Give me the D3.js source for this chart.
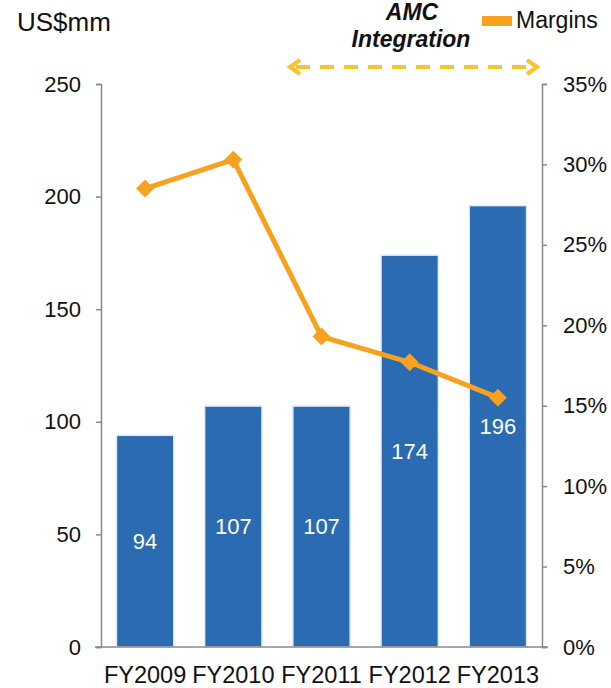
<!DOCTYPE html>
<html>
<head>
<meta charset="utf-8">
<script src="https://cdn.jsdelivr.net/npm/d3@7"></script>
<style>
  body { margin: 0; background: #fff; }
  svg text { font-family: "Liberation Sans", Arial, sans-serif; fill: #111; }
</style>
</head>
<body>
<div id="chart"></div>
<script>
// data
var years = ["FY2009", "FY2010", "FY2011", "FY2012", "FY2013"];
var revenue = [94, 107, 107, 174, 196];           // US$mm, bars
var margins = [0.285, 0.303, 0.193, 0.177, 0.155]; // line
var leftTicks = [0, 50, 100, 150, 200, 250];
var rightTicks = [0, 0.05, 0.10, 0.15, 0.20, 0.25, 0.30, 0.35];

var W = 611, H = 688;
var plot = {left: 101, right: 542, top: 84, bottom: 647};

var svg = d3.select("#chart").append("svg")
    .attr("width", W)
    .attr("height", H);

var x = d3.scaleBand()
    .domain(years)
    .range([plot.left, plot.right])
    .paddingInner(0.35)
    .paddingOuter(0.175);

var yL = d3.scaleLinear().domain([0, 250]).range([plot.bottom, plot.top]);
var yR = d3.scaleLinear().domain([0, 0.35]).range([plot.bottom, plot.top]);

// bars
svg.append("g")
  .selectAll("rect")
  .data(revenue)
  .enter()
  .append("rect")
    .attr("x", function(d, i) { return x(years[i]); })
    .attr("y", function(d) { return yL(d); })
    .attr("width", x.bandwidth())
    .attr("height", function(d) { return yL(0) - yL(d); })
    .style("fill", "#2a6bb2")
    .style("stroke", "#e2ebf5")
    .style("stroke-width", 1.5);

// bar labels
svg.append("g")
  .selectAll("text")
  .data(revenue)
  .enter()
  .append("text")
    .attr("x", function(d, i) { return x(years[i]) + x.bandwidth() / 2; })
    .attr("y", function(d) { return (yL(d) + yL(0)) / 2; })
    .attr("dy", "0.35em")
    .attr("text-anchor", "middle")
    .style("font-size", "22px")
    .style("fill", "#fff")
    .text(function(d) { return d; });

// left axis
var gL = svg.append("g")
    .attr("transform", "translate(" + plot.left + ",0)")
    .call(d3.axisLeft(yL).tickValues(leftTicks).tickSize(5).tickPadding(15));
gL.selectAll("text").style("font-size", "22px").style("fill", "#111");

// right axis
var gR = svg.append("g")
    .attr("transform", "translate(" + plot.right + ",0)")
    .call(d3.axisRight(yR).tickValues(rightTicks).tickSize(5).tickPadding(16)
      .tickFormat(d3.format(".0%")));
gR.selectAll("text").style("font-size", "22px").style("fill", "#111");

[gL, gR].forEach(function(g) {
  g.selectAll("path, line").style("stroke", "#8a8a8a").style("stroke-width", 1.5);
});

// x axis
var gX = svg.append("g")
    .attr("transform", "translate(0," + plot.bottom + ")")
    .call(d3.axisBottom(x).tickSize(0).tickPadding(19));
gX.select(".domain").remove();
gX.selectAll("text").style("font-size", "23.5px").style("fill", "#111");
svg.append("line")
    .attr("x1", plot.left - 6).attr("x2", plot.right + 6)
    .attr("y1", plot.bottom).attr("y2", plot.bottom)
    .style("stroke", "#8a8a8a").style("stroke-width", 1.5);

// margins line
var orange = "#f7a11f";
var line = d3.line()
    .x(function(d, i) { return x(years[i]) + x.bandwidth() / 2; })
    .y(function(d) { return yR(d); });

svg.append("path")
    .datum(margins)
    .attr("d", line)
    .style("fill", "none")
    .style("stroke", orange)
    .style("stroke-width", 5)
    .style("stroke-linejoin", "round");

svg.append("g")
  .selectAll("path")
  .data(margins)
  .enter()
  .append("path")
    .attr("d", d3.symbol().type(d3.symbolSquare).size(160))
    .attr("transform", function(d, i) {
      return "translate(" + (x(years[i]) + x.bandwidth() / 2) + "," + yR(d) + ") rotate(45)";
    })
    .style("fill", orange);

// y unit label
svg.append("text")
    .attr("x", 17)
    .attr("y", 31)
    .style("font-size", "26px")
    .text("US$mm");

// legend
svg.append("rect")
    .attr("x", 482).attr("y", 16)
    .attr("width", 30).attr("height", 10)
    .style("fill", orange);
svg.append("text")
    .attr("x", 516)
    .attr("y", 28)
    .style("font-size", "23px")
    .text("Margins");

// AMC integration note
var note = svg.append("text")
    .attr("text-anchor", "middle")
    .style("font-size", "23px")
    .style("font-weight", "bold")
    .style("font-style", "italic");
note.append("tspan").attr("x", 412).attr("y", 20).text("AMC");
note.append("tspan").attr("x", 411).attr("y", 47).text("Integration");

var yellow = "#f9c22e";
svg.append("line")
    .attr("x1", 296).attr("x2", 532)
    .attr("y1", 67).attr("y2", 67)
    .style("stroke", yellow)
    .style("stroke-width", 4)
    .style("stroke-dasharray", "14,10");
svg.append("path")
    .attr("d", "M300,60 L290,67 L300,74")
    .style("fill", "none").style("stroke", yellow).style("stroke-width", 4);
svg.append("path")
    .attr("d", "M527,60 L537,67 L527,74")
    .style("fill", "none").style("stroke", yellow).style("stroke-width", 4);
</script>
</body>
</html>
